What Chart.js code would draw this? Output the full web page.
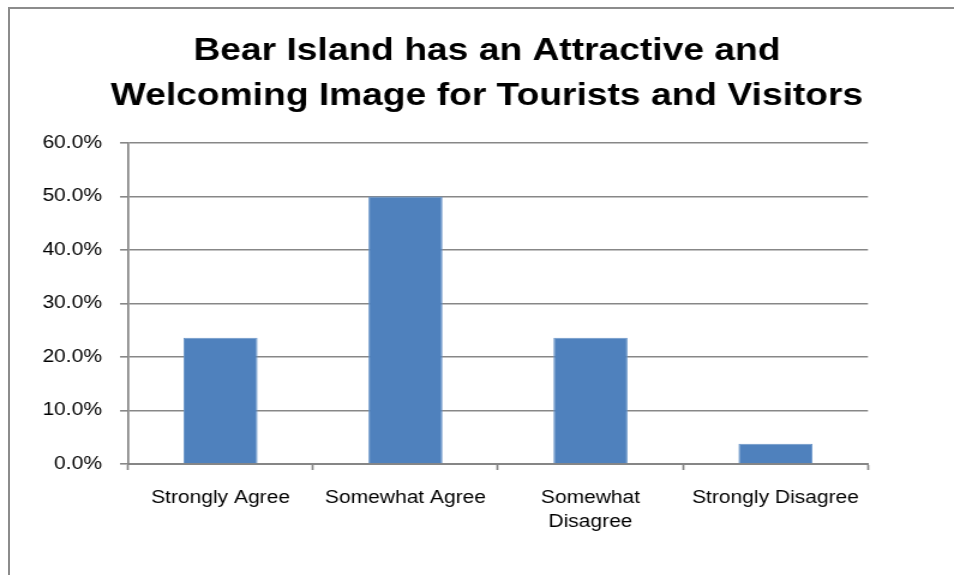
<!DOCTYPE html>
<html>
<head>
<meta charset="utf-8">
<script src="https://cdn.jsdelivr.net/npm/chart.js@4"></script>
<style>
  html, body { margin: 0; padding: 0; background: #fff; overflow: hidden; }
  #wrap { position: relative; width: 954px; height: 575px; }
  #frame { position: absolute; left: 8px; top: 7px; width: 960px; height: 600px; border: 2px solid #8c8c8c; box-sizing: border-box; }
  /* the chart is drawn a bit narrow and stretched sideways, like the wide lettering of the original export */
  canvas { position: absolute; left: 0; top: 0; transform: scaleX(1.2); transform-origin: 0 0; }
</style>
</head>
<body>
<div id="wrap">
  <div id="frame"></div>
  <canvas id="barChart" width="795" height="575"></canvas>
</div>
<script>
const categories = [
  'Strongly Agree',
  'Somewhat Agree',
  ['Somewhat', 'Disagree'],
  'Strongly Disagree',
];

const percentages = [23.6, 50.0, 23.6, 3.8];

const yTicks = [0, 10, 20, 30, 40, 50, 60];

const titleLines = [
  'Bear Island has an Attractive and',
  'Welcoming Image for Tourists and Visitors',
];

const font = "'Liberation Sans', Arial, Helvetica, sans-serif";

var ctx = document.getElementById('barChart');

if(ctx){
  var barChart = new Chart(ctx, {
    type: 'bar',
    data: {
      labels: categories,
      datasets: [{
        data: percentages,
        backgroundColor: '#4f81bd',
        borderColor: '#6a95c8',
        borderWidth: 1,
        barPercentage: 1,
        categoryPercentage: 0.4,
      }],
    },
    options: {
      responsive: false,
      animation: false,
      layout: {
        padding: { left: 16.6, right: 0, top: 0, bottom: 0 }
      },
      plugins: {
        legend: { display: false },
        tooltip: { enabled: false },
        title: {
          display: true,
          text: titleLines,
          color: '#000',
          font: { family: font, size: 31, weight: 'bold', lineHeight: 45 / 31 },
          padding: { top: 29, bottom: 24 },
        }
      },
      scales: {
        x: {
          grid: {
            display: true,
            drawOnChartArea: false,
            drawTicks: true,
            tickLength: 6,
            tickWidth: 1.7,
            tickColor: '#868686',
            offset: true,
          },
          border: { color: '#868686', width: 2 },
          ticks: {
            color: '#000',
            font: { family: font, size: 17.5, lineHeight: 24 / 17.5 },
            padding: 16,
            maxRotation: 0,
            autoSkip: false,
          },
          afterFit: function(scale) { scale.height = 575 - 464; }
        },
        y: {
          min: 0,
          max: 60,
          afterBuildTicks: function(scale) {
            scale.ticks = yTicks.map(function(v) { return { value: v }; });
          },
          grid: {
            color: '#878787',
            lineWidth: 1.6,
            tickLength: 6.7,
            tickColor: '#878787',
          },
          border: { color: '#868686', width: 1.7 },
          ticks: {
            color: '#000',
            font: { family: font, size: 17.5 },
            padding: 15,
            callback: function(v) { return v.toFixed(1) + '%'; }
          },
          afterFit: function(scale) { scale.width = 90.1; }
        },
        // empty right-hand margin axis, keeps the plot narrower than the title
        yRight: {
          position: 'right',
          min: 0,
          max: 60,
          grid: { display: false },
          border: { display: false },
          ticks: { display: false },
          afterFit: function(scale) { scale.width = 71.7; }
        }
      }
    }
  });
}
</script>
</body>
</html>
